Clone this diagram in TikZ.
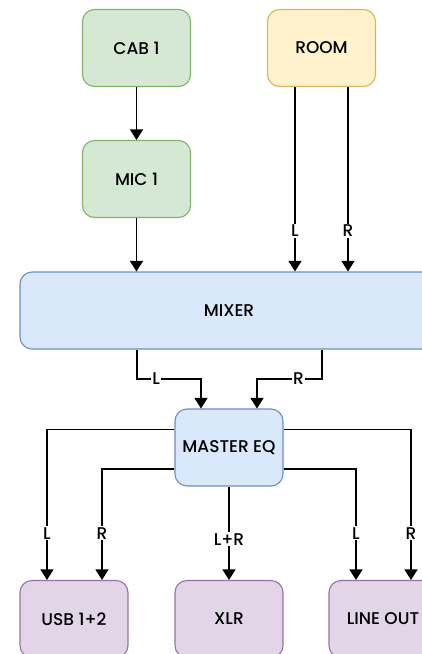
\documentclass[tikz,border=0pt]{standalone}
\usepackage{fontspec}
\setmainfont{Poppins}[UprightFont=* Medium]
\usetikzlibrary{arrows.meta}
\definecolor{gfill}{HTML}{D5E8D4}\definecolor{gline}{HTML}{82B366}
\definecolor{yfill}{HTML}{FFF2CC}\definecolor{yline}{HTML}{D6B656}
\definecolor{bfill}{HTML}{DAE8FC}\definecolor{bline}{HTML}{6C8EBF}
\definecolor{pfill}{HTML}{E1D5E7}\definecolor{pline}{HTML}{9673A6}
\begin{document}
\begin{tikzpicture}[x=1pt,y=-1pt,
  box/.style={draw, rounded corners=12pt, line width=1.1pt, minimum width=108pt, minimum height=77pt, inner sep=0pt, font=\fontsize{17}{20}\selectfont},
  green/.style={box, fill=gfill, draw=gline},
  yellow/.style={box, fill=yfill, draw=yline},
  blue/.style={box, fill=bfill, draw=bline},
  purple/.style={box, fill=pfill, draw=pline},
  conn/.style={line width=1.2pt, -{Triangle[width=13pt,length=10.5pt]}},
  lab/.style={fill=white, inner sep=1pt, font=\fontsize{17}{20}\selectfont}]
\useasboundingbox (0,0) rectangle (422,654);
\clip (0,0) rectangle (422,654);
\node[green] (cab) at (136.5,48) {CAB 1};
\node[yellow] (room) at (321.5,48) {ROOM};
\node[green] (mic) at (136.5,179) {MIC 1};
\node[blue, minimum width=418pt] (mix) at (229,310.5) {MIXER};
\node[blue] (eq) at (229,447.5) {MASTER EQ};
\node[purple] (usb) at (74,619) {USB 1+2};
\node[purple] (xlr) at (229,619) {XLR};
\node[purple] (line) at (383,619) {LINE OUT};
% top
\draw[conn] (cab) -- (mic);
\draw[conn] (mic) -- (mic |- mix.north);
\draw[conn] ([xshift=-26.5pt]room.south) -- node[lab, pos=0.78] {L} ([xshift=-26.5pt]room.south |- mix.north);
\draw[conn] ([xshift=26.5pt]room.south) -- node[lab, pos=0.78] {R} ([xshift=26.5pt]room.south |- mix.north);
% mixer to eq
\draw[conn] ([xshift=-92pt]mix.south) |- node[lab, pos=0.65] {L} (201,379) -- ([xshift=-28pt]eq.north);
\draw[conn] ([xshift=93pt]mix.south) |- node[lab, pos=0.68] {R} (257,379) -- ([xshift=28pt]eq.north);
% eq to outputs
\draw[conn] ([yshift=18pt]eq.west) -| node[lab, pos=0.845] {L} ([xshift=-27pt]usb.north);
\draw[conn] ([yshift=-21.5pt]eq.west) -| node[lab, pos=0.79] {R} ([xshift=28pt]usb.north);
\draw[conn] (eq) -- node[lab, pos=0.565] {L+R} (xlr);
\draw[conn] ([yshift=-21.5pt]eq.east) -| node[lab, pos=0.79] {L} ([xshift=-27pt]line.north);
\draw[conn] ([yshift=18pt]eq.east) -| node[lab, pos=0.845] {R} ([xshift=28pt]line.north);
\end{tikzpicture}
\end{document}
